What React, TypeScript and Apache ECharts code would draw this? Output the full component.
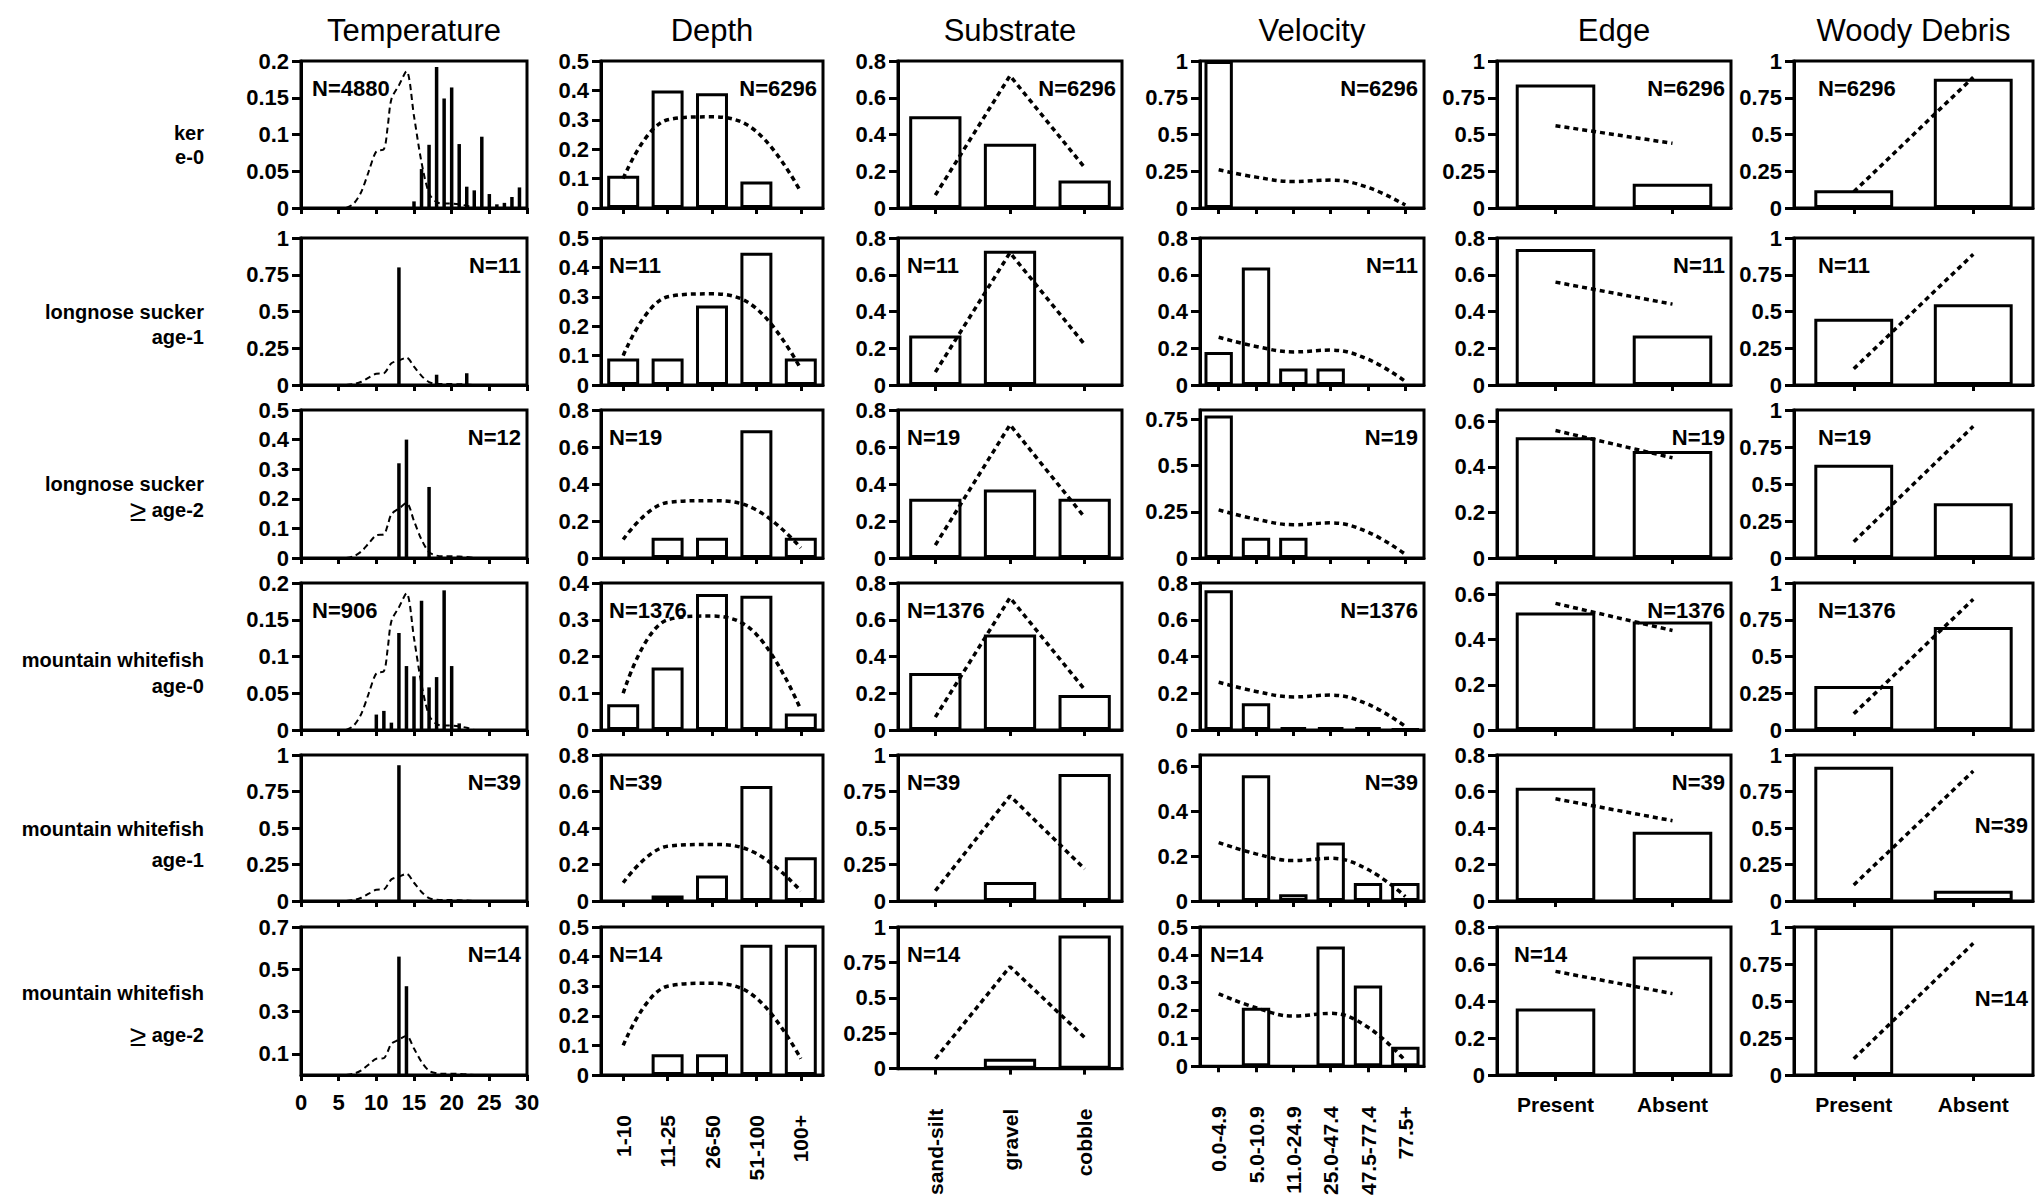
import React, { useEffect, useRef } from "react";
import * as echarts from "echarts";

// ---------- text ----------
const columnTitles = ["Temperature", "Depth", "Substrate", "Velocity", "Edge", "Woody Debris"];
const rowLabelTop = ["ker", "longnose sucker", "longnose sucker", "mountain whitefish", "mountain whitefish", "mountain whitefish"];
const rowLabelBottom = ["e-0", "age-1", "≥ age-2", "age-0", "age-1", "≥ age-2"];
const sampleSizes = [
  ["N=4880", "N=6296", "N=6296", "N=6296", "N=6296", "N=6296"],
  ["N=11", "N=11", "N=11", "N=11", "N=11", "N=11"],
  ["N=12", "N=19", "N=19", "N=19", "N=19", "N=19"],
  ["N=906", "N=1376", "N=1376", "N=1376", "N=1376", "N=1376"],
  ["N=39", "N=39", "N=39", "N=39", "N=39", "N=39"],
  ["N=14", "N=14", "N=14", "N=14", "N=14", "N=14"],
];

// ---------- categories ----------
const depthCats = ["1-10", "11-25", "26-50", "51-100", "100+"];
const substrateCats = ["sand-silt", "gravel", "cobble"];
const velocityCats = ["0.0-4.9", "5.0-10.9", "11.0-24.9", "25.0-47.4", "47.5-77.4", "77.5+"];
const edgeCats = ["Present", "Absent"];
const woodyCats = ["Present", "Absent"];

// ---------- temperature (spikes: [°C, proportion]) ----------
const tempTicks = [0, 5, 10, 15, 20, 25, 30];
const tempAvailX = [6, 7, 8, 9, 10, 11, 11.5, 12, 13, 14, 15, 16, 17, 18, 19, 20, 21, 22, 23];
const tempAvailY = [0, 0.006, 0.022, 0.05, 0.077, 0.08, 0.11, 0.148, 0.167, 0.186, 0.125, 0.062, 0.02, 0.008, 0.006, 0.006, 0.005, 0.003, 0];
const tempLS0 = [[15, 0.009], [16, 0.053], [17, 0.086], [18, 0.192], [19, 0.149], [20, 0.164], [21, 0.087], [22, 0.029], [23, 0.024], [24, 0.097], [25, 0.019], [26, 0.005], [27, 0.007], [28, 0.015], [29, 0.028]];
const tempLS1 = [[13, 0.8], [18, 0.07], [22, 0.08]];
const tempLS2 = [[13, 0.32], [14, 0.4], [17, 0.24]];
const tempMW0 = [[10, 0.021], [11, 0.026], [12, 0.01], [13, 0.132], [14, 0.087], [15, 0.073], [16, 0.176], [17, 0.058], [18, 0.072], [19, 0.19], [20, 0.087], [21, 0.009]];
const tempMW1 = [[13, 0.93]];
const tempMW2 = [[13, 0.56], [14, 0.42]];
const tempRows = [tempLS0, tempLS1, tempLS2, tempMW0, tempMW1, tempMW2];

// ---------- availability (dotted lines) ----------
const depthAvail = [0.1, 0.3, 0.31, 0.26, 0.055];
const substrateAvail = [0.07, 0.72, 0.22];
const velocityAvail = [0.26, 0.21, 0.18, 0.19, 0.14, 0.02];
const edgeAvail = [0.56, 0.44];
const woodyAvail = [0.11, 0.89];

// ---------- use (bars), one row per fish group ----------
const depthUse = [
  [0.11, 0.4, 0.39, 0.09, 0],
  [0.09, 0.09, 0.27, 0.45, 0.09],
  [0, 0.11, 0.11, 0.69, 0.11],
  [0.07, 0.17, 0.37, 0.365, 0.045],
  [0, 0.03, 0.14, 0.63, 0.24],
  [0, 0.07, 0.07, 0.44, 0.44],
];
const substrateUse = [
  [0.5, 0.35, 0.15],
  [0.27, 0.73, 0],
  [0.32, 0.37, 0.32],
  [0.31, 0.52, 0.19],
  [0, 0.13, 0.87],
  [0, 0.07, 0.94],
];
const velocityUse = [
  [1.0, 0, 0, 0, 0, 0],
  [0.18, 0.64, 0.09, 0.09, 0, 0],
  [0.77, 0.11, 0.11, 0, 0, 0],
  [0.76, 0.145, 0.015, 0.015, 0.015, 0.005],
  [0, 0.56, 0.03, 0.26, 0.08, 0.08],
  [0, 0.21, 0, 0.43, 0.29, 0.07],
];
const edgeUse = [
  [0.84, 0.165],
  [0.74, 0.27],
  [0.53, 0.47],
  [0.52, 0.48],
  [0.62, 0.38],
  [0.36, 0.64],
];
const woodyUse = [
  [0.12, 0.88],
  [0.45, 0.55],
  [0.63, 0.37],
  [0.3, 0.7],
  [0.92, 0.07],
  [1.0, 0],
];

// ---------- y tick labels ----------
const T020 = [0, 0.05, 0.1, 0.15, 0.2];
const T1 = [0, 0.25, 0.5, 0.75, 1];
const T05 = [0, 0.1, 0.2, 0.3, 0.4, 0.5];
const T04 = [0, 0.1, 0.2, 0.3, 0.4];
const T08 = [0, 0.2, 0.4, 0.6, 0.8];
const T06 = [0, 0.2, 0.4, 0.6];
const T075 = [0, 0.25, 0.5, 0.75];
const T07 = [0.1, 0.3, 0.5, 0.7];
const yTicks = [
  [T020, T1, T05, T020, T1, T07],
  [T05, T05, T08, T04, T08, T05],
  [T08, T08, T08, T08, T1, T1],
  [T1, T08, T075, T08, T06, T05],
  [T1, T08, T06, T06, T08, T08],
  [T1, T1, T1, T1, T1, T1],
];
const yMax = [
  [0.2, 1, 0.5, 0.2, 1, 0.7],
  [0.5, 0.5, 0.8, 0.4, 0.8, 0.5],
  [0.8, 0.8, 0.8, 0.8, 1, 1],
  [1, 0.8, 0.8, 0.8, 0.65, 0.5],
  [1, 0.8, 0.65, 0.65, 0.8, 0.8],
  [1, 1, 1, 1, 1, 1],
];

// ---------- layout ----------
const FONT = "'Liberation Sans', Arial, Helvetica, sans-serif";
const colLeft = [301, 601, 898, 1200, 1497, 1794];
const colRight = [527, 823, 1122, 1424, 1731, 2033];
const rowTop = [61, 238, 410, 583, 755, 927];
const rowBottom = [208, 385, 558, 730, 901, 1075];
const rowLabelY1 = [133, 312, 484, 660, 829, 993];
const rowLabelY2 = [157, 337, 510, 686, 860, 1035];
const nPos = [
  ["L", "R", "R", "R", "R", "L"],
  ["R", "L", "L", "R", "R", "L"],
  ["R", "L", "L", "R", "R", "L"],
  ["L", "L", "L", "R", "R", "L"],
  ["R", "L", "L", "R", "R", "M"],
  ["R", "L", "L", "L", "L", "M"],
];
const nLeftPad = [11, 8, 9, 10, 17, 24];

const catCols = [
  { cats: depthCats, use: depthUse, avail: depthAvail, smooth: 0.4, gap: "28%" },
  { cats: substrateCats, use: substrateUse, avail: substrateAvail, smooth: false, gap: "30%" },
  { cats: velocityCats, use: velocityUse, avail: velocityAvail, smooth: 0.4, gap: "24%" },
  { cats: edgeCats, use: edgeUse, avail: edgeAvail, smooth: false, gap: "32%" },
  { cats: woodyCats, use: woodyUse, avail: woodyAvail, smooth: false, gap: "34%" },
];

function txt(x: number, y: number, text: string, size: number, weight: string, align: string, rich?: any) {
  return {
    type: "text",
    x,
    y,
    silent: true,
    style: {
      text,
      fontSize: size,
      fontWeight: weight,
      fontFamily: FONT,
      fill: "#000",
      align,
      textAlign: align,
      verticalAlign: "middle",
      textVerticalAlign: "middle",
      rich,
    },
  };
}

function buildOption() {
  const grid: any[] = [];
  const xAxis: any[] = [];
  const yAxis: any[] = [];
  const series: any[] = [];
  const graphic: any[] = [];
  const line = { color: "#000", width: 3 };
  const labelBase = { color: "#000", fontFamily: FONT, fontWeight: "bold" };

  for (let r = 0; r < 6; r++) {
    for (let c = 0; c < 6; c++) {
      const i = r * 6 + c;
      const left = colLeft[c];
      const right = colRight[c];
      const top = rowTop[r];
      const bottom = rowBottom[r];
      const isBottom = r === 5;
      grid.push({
        left,
        top,
        width: right - left,
        height: bottom - top,
        show: true,
        borderColor: "#000",
        borderWidth: 3,
        containLabel: false,
      });
      if (c === 0) {
        xAxis.push({
          type: "value",
          gridIndex: i,
          min: 0,
          max: 30,
          interval: 5,
          axisLine: { show: true, onZero: false, lineStyle: line },
          axisTick: { show: true, length: 6, lineStyle: line, customValues: tempTicks },
          axisLabel: { ...labelBase, show: isBottom, fontSize: 22, margin: 16, customValues: tempTicks },
          splitLine: { show: false },
        });
      } else {
        const cc = catCols[c - 1];
        const rotated = c <= 3;
        xAxis.push({
          type: "category",
          gridIndex: i,
          data: cc.cats,
          axisLine: { show: true, onZero: false, lineStyle: line },
          axisTick: { show: true, alignWithLabel: true, length: 6, lineStyle: line },
          axisLabel: {
            ...labelBase,
            show: isBottom,
            interval: 0,
            rotate: rotated ? 90 : 0,
            fontSize: 21,
            margin: rotated ? 40 : 19,
          },
          splitLine: { show: false },
        });
      }
      yAxis.push({
        type: "value",
        gridIndex: i,
        min: 0,
        max: yMax[c][r],
        axisLine: { show: true, onZero: false, lineStyle: line },
        axisTick: { show: true, length: 9, lineStyle: line, customValues: yTicks[c][r] },
        axisLabel: { ...labelBase, fontSize: 22, margin: 12, customValues: yTicks[c][r] },
        splitLine: { show: false },
      });

      if (c === 0) {
        series.push({
          type: "bar",
          xAxisIndex: i,
          yAxisIndex: i,
          barWidth: 3.5,
          itemStyle: { color: "#000" },
          data: tempRows[r],
          silent: true,
        });
        series.push({
          type: "line",
          xAxisIndex: i,
          yAxisIndex: i,
          smooth: 0.3,
          symbol: "none",
          lineStyle: { color: "#000", width: 2, type: [6, 4] },
          data: tempAvailX.map((x, k) => [x, tempAvailY[k]]),
          silent: true,
        });
      } else {
        const cc = catCols[c - 1];
        series.push({
          type: "bar",
          xAxisIndex: i,
          yAxisIndex: i,
          barCategoryGap: cc.gap,
          itemStyle: { color: "#fff", borderColor: "#000", borderWidth: 3 },
          data: cc.use[r].map((v) => (v === 0 ? "-" : v)),
          silent: true,
        });
        series.push({
          type: "line",
          xAxisIndex: i,
          yAxisIndex: i,
          smooth: cc.smooth,
          symbol: "none",
          lineStyle: { color: "#000", width: 3.5, type: [5, 4] },
          data: cc.avail,
          silent: true,
        });
      }

      // sample size label
      const p = nPos[r][c];
      if (p === "L") graphic.push(txt(left + nLeftPad[c], top + 27, sampleSizes[r][c], 22, "bold", "left"));
      else if (p === "R") graphic.push(txt(right - 6, top + 27, sampleSizes[r][c], 22, "bold", "right"));
      else graphic.push(txt(right - 5, (top + bottom) / 2 - 3, sampleSizes[r][c], 22, "bold", "right"));
    }
  }

  // column titles
  for (let c = 0; c < 6; c++) {
    graphic.push(txt((colLeft[c] + colRight[c]) / 2, 30, columnTitles[c], 31, "normal", "center"));
  }
  // row labels
  for (let r = 0; r < 6; r++) {
    graphic.push(txt(204, rowLabelY1[r], rowLabelTop[r], 20, "bold", "right"));
    const b = rowLabelBottom[r];
    if (b.startsWith("≥")) {
      graphic.push(
        txt(204, rowLabelY2[r], "{g|≥} " + b.slice(2), 20, "bold", "right", {
          g: { fontSize: 30, fontFamily: FONT, fontWeight: "normal", fill: "#000" },
        })
      );
    } else {
      graphic.push(txt(204, rowLabelY2[r], b, 20, "bold", "right"));
    }
  }

  return {
    animation: false,
    backgroundColor: "#fff",
    grid,
    xAxis,
    yAxis,
    series,
    graphic,
  };
}

export default function App() {
  const ref = useRef<HTMLDivElement>(null);
  useEffect(() => {
    const chart = echarts.init(ref.current!, null, { renderer: "svg" });
    chart.setOption(buildOption() as any);
    return () => chart.dispose();
  }, []);
  return (
    <div
      ref={ref}
      style={{ position: "absolute", left: 0, top: 0, width: 2041, height: 1198, background: "#fff" }}
    />
  );
}
